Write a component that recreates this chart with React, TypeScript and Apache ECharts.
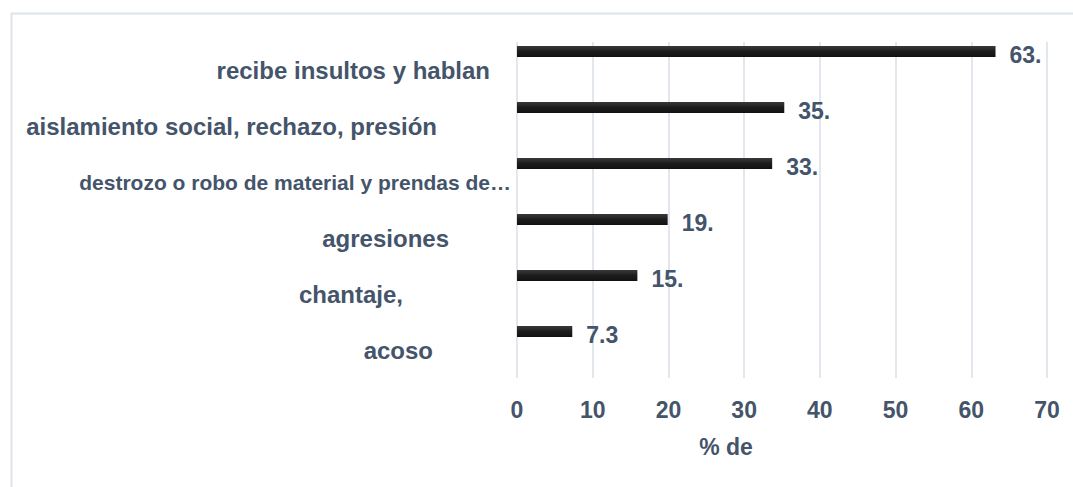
import React, { useEffect, useRef } from "react";
import * as echarts from "echarts";

const categories = [
  "recibe insultos y hablan",
  "aislamiento social, rechazo, presión",
  "destrozo o robo de material y prendas de…",
  "agresiones",
  "chantaje,",
  "acoso",
];
const values = [63.2, 35.3, 33.7, 19.9, 15.9, 7.3];
const xTicks = { min: 0, max: 70, interval: 10 };
const axisName = "% de";

const labelPads = [21, 74, 0, 62, 108, 78];
const labelSizes = [24, 24, 21, 24, 24, 24];
const TEXT = "#44546A";
const FONT = "'Liberation Sans', Arial, sans-serif";

export default function App() {
  const ref = useRef<HTMLDivElement>(null);
  useEffect(() => {
    if (!ref.current) return;
    const chart = echarts.init(ref.current, null, { renderer: "svg" });
    const rich: any = {};
    labelPads.forEach((p, i) => {
      rich["c" + i] = {
        fontFamily: FONT,
        fontWeight: "bold",
        fontSize: labelSizes[i],
        color: TEXT,
        padding: [0, p, 0, 0],
      };
    });
    chart.setOption({
      animation: false,
      backgroundColor: "#ffffff",
      graphic: [
        {
          type: "rect",
          left: 9,
          top: 11,
          shape: { width: 1090, height: 500 },
          style: { fill: "none", stroke: "#DEE3EA", lineWidth: 2 },
          z: -1,
        },
      ],
      grid: { left: 517, right: 26, top: 42, bottom: 109, containLabel: false },
      xAxis: {
        type: "value",
        min: xTicks.min,
        max: xTicks.max,
        interval: xTicks.interval,
        name: axisName,
        nameLocation: "middle",
        nameGap: 57,
        nameTextStyle: {
          fontFamily: FONT,
          fontWeight: "bold",
          fontSize: 23,
          color: TEXT,
          padding: [0, 112, 0, 0],
        },
        axisLine: { show: false },
        axisTick: { show: false },
        axisLabel: {
          margin: 20,
          fontFamily: FONT,
          fontWeight: "bold",
          fontSize: 23,
          color: TEXT,
        },
        splitLine: { show: true, lineStyle: { color: "#D9DFE8", width: 1.5 } },
      },
      yAxis: {
        type: "category",
        data: categories,
        inverse: true,
        axisLine: { show: false },
        axisTick: { show: false },
        axisLabel: {
          margin: 6,
          formatter: (v: string, i: number) => `{c${i}|${v}}`,
          rich,
        },
      },
      series: [
        {
          type: "bar",
          data: values,
          barWidth: 11,
          barGap: "236%",
          itemStyle: {
            color: new echarts.graphic.LinearGradient(0, 0, 0, 1, [
              { offset: 0, color: "#3a3a3a" },
              { offset: 0.5, color: "#1c1c1c" },
              { offset: 1, color: "#111111" },
            ]),
          },
          label: {
            show: true,
            position: "right",
            distance: 14,
            offset: [0, 3],
            formatter: (p: any) => String(p.value).slice(0, 3),
            fontFamily: FONT,
            fontWeight: "bold",
            fontSize: 23,
            color: TEXT,
          },
        },
        {
          type: "bar",
          data: values.map(() => null),
          barWidth: 11,
        },
      ],
    });
    return () => chart.dispose();
  }, []);
  return (
    <div
      ref={ref}
      style={{ position: "fixed", left: 0, top: 0, width: 1073, height: 487 }}
    />
  );
}
